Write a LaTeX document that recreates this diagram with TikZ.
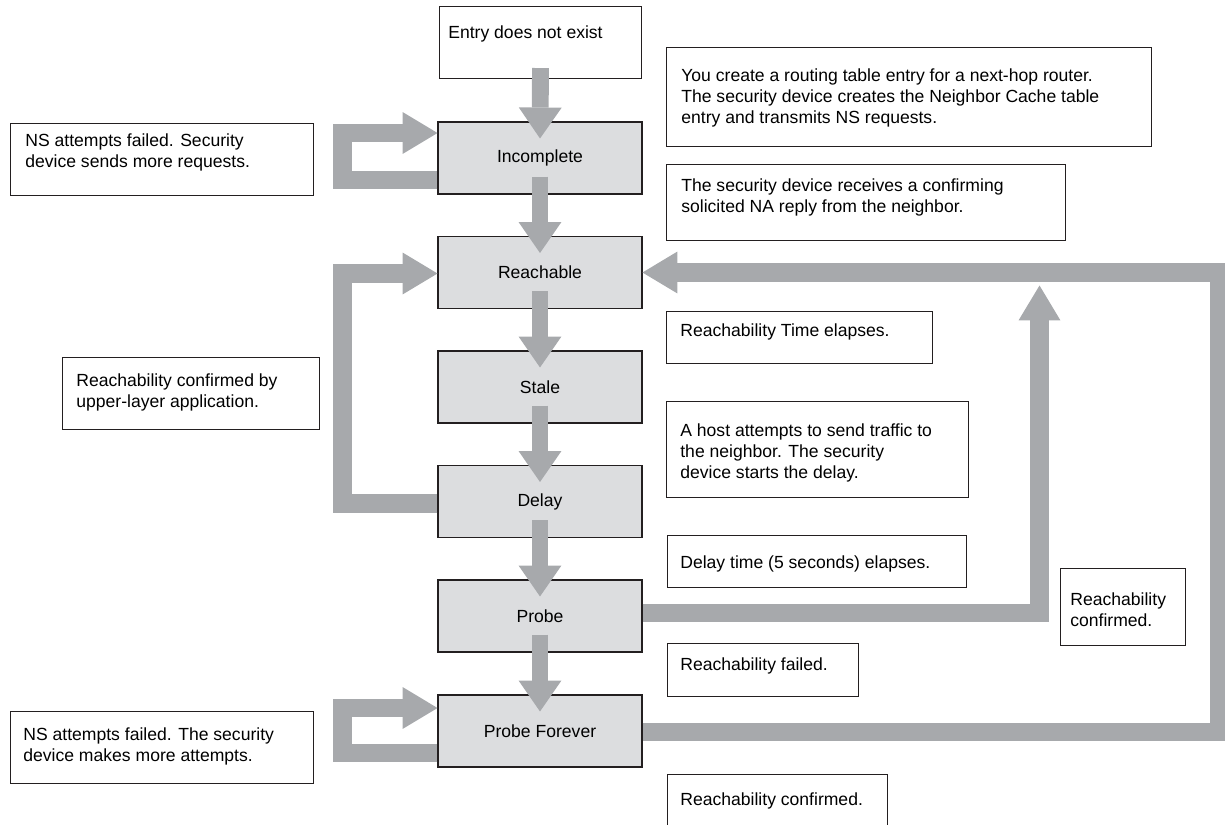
\documentclass[tikz,border=0pt]{standalone}
\usepackage{fontspec}
\setmainfont{Liberation Sans}
\usetikzlibrary{arrows.meta,calc}
\definecolor{bargray}{RGB}{167,169,172}
\definecolor{statefill}{RGB}{220,221,223}
\definecolor{edgeline}{RGB}{35,31,32}
\tikzset{
  state/.style={draw=edgeline,line width=0.6pt,fill=statefill,minimum width=4.08cm,minimum height=1.44cm,inner sep=0pt,font=\fontsize{10}{12}\selectfont},
  note/.style={draw=edgeline,line width=0.6pt,fill=white,anchor=north west,inner sep=0pt},
  notetext/.style={anchor=north west,inner sep=0pt,align=left,font=\fontsize{10}{12}\selectfont},
  downarrow/.style={bargray,line width=9.6pt,-{Triangle[width=24.4pt,length=17.6pt,line width=0pt]}},
  backarrow/.style={bargray,line width=10.8pt,line join=miter,-{Triangle[width=23.8pt,length=19.8pt,line width=0pt]}}
}
\begin{document}
\begin{tikzpicture}[x=0.02cm,y=-0.02cm]
 \useasboundingbox (0,0) rectangle (1225,825);
 % states
 \node[note,minimum width=4.04cm,minimum height=1.44cm] (entry) at (439,6) {};
 \node[notetext] (entrytext) at ($(entry.north west)+(9,19)$) {Entry does not exist};
 \node[state] (incomplete) at (540,158) {Incomplete};
 \node[state] (reachable) at (540,272.5) {Reachable};
 \node[state] (stale) at (540,387) {Stale};
 \node[state] (delay) at (540,501.5) {Delay};
 \node[state] (probe) at (540,616) {Probe};
 \node[state] (probeforever) at (540,731) {Probe Forever};
 % notes on the right
 \node[note,minimum width=9.7cm,minimum height=1.98cm] (create) at (666,47) {};
 \node[notetext] (createtext) at ($(create.north west)+(15,21)$) {You create a routing table entry for a next-hop router.\\The security device creates the Neighbor Cache table\\entry and transmits NS requests.};
 \node[note,minimum width=7.98cm,minimum height=1.52cm] (receive) at (666,164) {};
 \node[notetext] (receivetext) at ($(receive.north west)+(15,14)$) {The security device receives a confirming\\solicited NA reply from the neighbor.};
 \node[note,minimum width=5.32cm,minimum height=1.04cm] (reachtime) at (666,311) {};
 \node[notetext] (reachtimetext) at ($(reachtime.north west)+(14,12)$) {Reachability Time elapses.};
 \node[note,minimum width=6.04cm,minimum height=1.92cm] (host) at (666,401) {};
 \node[notetext] (hosttext) at ($(host.north west)+(14,22)$) {A host attempts to send traffic to\\the neighbor. The security\\device starts the delay.};
 \node[note,minimum width=5.98cm,minimum height=1.04cm] (delaytime) at (667,535) {};
 \node[notetext] (delaytimetext) at ($(delaytime.north west)+(13,20)$) {Delay time (5 seconds) elapses.};
 \node[note,minimum width=3.82cm,minimum height=1.06cm] (failed) at (667,643) {};
 \node[notetext] (failedtext) at ($(failed.north west)+(13,14)$) {Reachability failed.};
 \node[note,minimum width=4.4cm,minimum height=1.2cm] (confirmed) at (667,774) {};
 \node[notetext] (confirmedtext) at ($(confirmed.north west)+(13,18)$) {Reachability confirmed.};
 \node[note,minimum width=2.5cm,minimum height=1.54cm] (confright) at (1060,568) {};
 \node[notetext] (confrighttext) at ($(confright.north west)+(10,24)$) {Reachability\\confirmed.};
 % notes on the left
 \node[note,minimum width=6.06cm,minimum height=1.44cm] (nsfirst) at (10,123) {};
 \node[notetext] (nsfirsttext) at ($(nsfirst.north west)+(15,10)$) {NS attempts failed. Security\\device sends more requests.};
 \node[note,minimum width=5.14cm,minimum height=1.44cm] (upper) at (62,357) {};
 \node[notetext] (uppertext) at ($(upper.north west)+(14,16)$) {Reachability confirmed by\\upper-layer application.};
 \node[note,minimum width=6.06cm,minimum height=1.44cm] (nssecond) at (10,711) {};
 \node[notetext] (nssecondtext) at ($(nssecond.north west)+(13,16)$) {NS attempts failed. The security\\device makes more attempts.};
 % down the chain
 \draw[downarrow] ($(entry.south)+(0,-11)$) -- ($(incomplete.north)+(0,17)$);
 \draw[downarrow] ($(incomplete.south)+(0,-18)$) -- ($(reachable.north)+(0,17)$);
 \draw[downarrow] ($(reachable.south)+(0,-18)$) -- ($(stale.north)+(0,17)$);
 \draw[downarrow] ($(stale.south)+(0,-18)$) -- ($(delay.north)+(0,17)$);
 \draw[downarrow] ($(delay.south)+(0,-18)$) -- ($(probe.north)+(0,17)$);
 \draw[downarrow] ($(probe.south)+(0,-18)$) -- ($(probeforever.north)+(0,17)$);
 % loops on the left
 \draw[backarrow] ($(incomplete.west)+(0,22)$) -- ++(-95,0) |- ($(incomplete.west)+(0,-25)$);
 \draw[backarrow] ($(delay.west)+(0,2)$) -- ++(-95,0) |- ($(reachable.west)+(0,1)$);
 \draw[backarrow] ($(probeforever.west)+(0,22)$) -- ++(-95,0) |- ($(probeforever.west)+(0,-23)$);
 % back to reachable on the right
 \draw[backarrow] ($(probe.east)+(0,-3)$) -| ($(reachable.east)+(397,13)$);
 \draw[backarrow] ($(probeforever.east)+(0,1)$) -- ++(577,0) |- (reachable.east);
\end{tikzpicture}
\end{document}
